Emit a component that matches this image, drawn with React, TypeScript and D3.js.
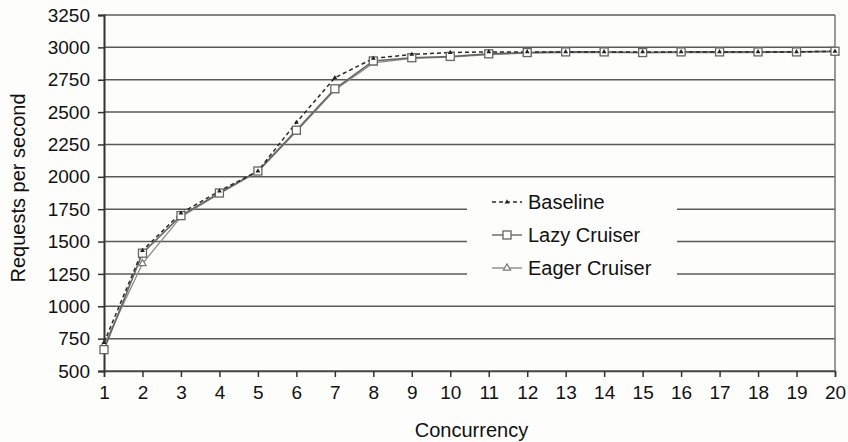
import React, { useEffect, useRef } from 'react';
import * as d3 from 'd3';

// concurrency levels on the x axis
const concurrency = [1, 2, 3, 4, 5, 6, 7, 8, 9, 10, 11, 12, 13, 14, 15, 16, 17, 18, 19, 20];
const yTicks = [500, 750, 1000, 1250, 1500, 1750, 2000, 2250, 2500, 2750, 3000, 3250];

// requests per second
const baseline = [720, 1430, 1720, 1890, 2045, 2420, 2765, 2915, 2945, 2960, 2965, 2965, 2965, 2965, 2965, 2965, 2965, 2965, 2965, 2970];
const lazyCruiser = [665, 1410, 1700, 1875, 2045, 2360, 2680, 2895, 2920, 2930, 2950, 2960, 2965, 2965, 2960, 2965, 2965, 2965, 2965, 2970];
const eagerCruiser = [700, 1330, 1690, 1870, 2040, 2350, 2670, 2880, 2915, 2925, 2945, 2955, 2960, 2960, 2960, 2960, 2960, 2960, 2965, 2965];

const seriesNames = ['Baseline', 'Lazy Cruiser', 'Eager Cruiser'];

export default function App() {
  const ref = useRef<SVGSVGElement>(null);

  useEffect(() => {
    const width = 848, height = 442;
    const margin = { top: 15, right: 13, bottom: 71, left: 104 };
    const innerW = width - margin.left - margin.right;
    const innerH = height - margin.top - margin.bottom;
    const font = '"Liberation Sans", Arial, sans-serif';

    const svg = d3.select(ref.current);
    svg.selectAll('*').remove();
    svg.append('rect').attr('width', width).attr('height', height).attr('fill', '#fdfdfb');

    const g = svg.append('g').attr('transform', `translate(${margin.left},${margin.top})`);

    const x = d3.scaleLinear().domain([1, 20]).range([0, innerW]);
    const y = d3.scaleLinear().domain([500, 3250]).range([innerH, 0]);

    // horizontal gridlines
    g.selectAll('.grid')
      .data(yTicks)
      .enter()
      .append('line')
      .attr('x1', 0)
      .attr('x2', innerW)
      .attr('y1', d => y(d))
      .attr('y2', d => y(d))
      .attr('stroke', '#5a5a5a')
      .attr('stroke-width', 1.5);

    // right border
    g.append('line')
      .attr('x1', innerW).attr('x2', innerW)
      .attr('y1', 0).attr('y2', innerH)
      .attr('stroke', '#777').attr('stroke-width', 1.5);

    // Y axis
    const yAxis = g.append('g')
      .call(d3.axisLeft(y).tickValues(yTicks).tickSize(6).tickPadding(8).tickFormat(d3.format('d')));
    yAxis.select('.domain').attr('stroke', '#333').attr('stroke-width', 2);
    yAxis.selectAll('.tick line').attr('stroke', '#333').attr('stroke-width', 1.5);
    yAxis.selectAll('text').attr('font-family', font).attr('font-size', 19).attr('fill', '#111');

    // X axis
    const xAxis = g.append('g')
      .attr('transform', `translate(0,${innerH})`)
      .call(d3.axisBottom(x).tickValues(concurrency).tickSize(6).tickPadding(9).tickFormat(d3.format('d')));
    xAxis.select('.domain').attr('stroke', '#444').attr('stroke-width', 1.5);
    xAxis.selectAll('.tick line').attr('stroke', '#333').attr('stroke-width', 1.5);
    xAxis.selectAll('text').attr('font-family', font).attr('font-size', 19).attr('fill', '#111');

    // axis titles
    svg.append('text')
      .attr('x', margin.left + innerW / 2 + 2)
      .attr('y', 437)
      .attr('text-anchor', 'middle')
      .attr('font-family', font).attr('font-size', 20).attr('fill', '#111')
      .text('Concurrency');
    svg.append('text')
      .attr('transform', `translate(25,${margin.top + innerH / 2 - 5}) rotate(-90)`)
      .attr('text-anchor', 'middle')
      .attr('font-family', font).attr('font-size', 20).attr('fill', '#111')
      .text('Requests per second');

    const line = d3.line<number>()
      .x((d, i) => x(concurrency[i]))
      .y(d => y(d));

    // Eager Cruiser (light gray, triangles)
    g.append('path').datum(eagerCruiser)
      .attr('fill', 'none').attr('stroke', '#8a8a8a').attr('stroke-width', 1.3)
      .attr('d', line);
    // Lazy Cruiser (gray, squares)
    g.append('path').datum(lazyCruiser)
      .attr('fill', 'none').attr('stroke', '#666').attr('stroke-width', 1.6)
      .attr('d', line);
    // Baseline (dashed dark)
    g.append('path').datum(baseline)
      .attr('fill', 'none').attr('stroke', '#2a2a2a').attr('stroke-width', 1.5)
      .attr('stroke-dasharray', '4,3')
      .attr('d', line);

    const tri = d3.symbol().type(d3.symbolTriangle).size(22);
    g.selectAll('.eager')
      .data(eagerCruiser)
      .enter()
      .append('path')
      .attr('d', tri)
      .attr('transform', (d, i) => `translate(${x(concurrency[i])},${y(d)})`)
      .attr('fill', '#fff').attr('stroke', '#777').attr('stroke-width', 1.2);

    g.selectAll('.lazy')
      .data(lazyCruiser)
      .enter()
      .append('rect')
      .attr('x', (d, i) => x(concurrency[i]) - 4)
      .attr('y', d => y(d) - 4)
      .attr('width', 8).attr('height', 8)
      .attr('fill', '#fff').attr('stroke', '#666').attr('stroke-width', 1.3);

    const baseMark = d3.symbol().type(d3.symbolTriangle).size(10);
    g.selectAll('.base')
      .data(baseline)
      .enter()
      .append('path')
      .attr('d', baseMark)
      .attr('transform', (d, i) => `translate(${x(concurrency[i])},${y(d)})`)
      .attr('fill', '#222');

    // legend
    const lg = svg.append('g');
    lg.append('rect')
      .attr('x', 467).attr('y', 183).attr('width', 210).attr('height', 104)
      .attr('fill', '#fdfdfb');
    const rows = [202, 235, 268];
    seriesNames.forEach((name, i) => {
      const yy = rows[i];
      const ln = lg.append('line')
        .attr('x1', 492).attr('x2', 522).attr('y1', yy).attr('y2', yy)
        .attr('stroke', i === 0 ? '#2a2a2a' : i === 1 ? '#666' : '#8a8a8a')
        .attr('stroke-width', 1.4);
      if (i === 0) {
        ln.attr('stroke-dasharray', '4,3');
        lg.append('path').attr('d', baseMark).attr('transform', `translate(507,${yy})`).attr('fill', '#222');
      } else if (i === 1) {
        lg.append('rect').attr('x', 503).attr('y', yy - 4).attr('width', 8).attr('height', 8)
          .attr('fill', '#fff').attr('stroke', '#666').attr('stroke-width', 1.3);
      } else {
        lg.append('path').attr('d', tri).attr('transform', `translate(507,${yy})`)
          .attr('fill', '#fff').attr('stroke', '#777').attr('stroke-width', 1.2);
      }
      lg.append('text')
        .attr('x', 528).attr('y', yy + 7)
        .attr('font-family', font).attr('font-size', 20).attr('fill', '#111')
        .text(name);
    });
  }, []);

  return (
    <div style={{ position: 'absolute', left: 0, top: 0 }}>
      <svg ref={ref} width={848} height={442} style={{ display: 'block' }} />
    </div>
  );
}
